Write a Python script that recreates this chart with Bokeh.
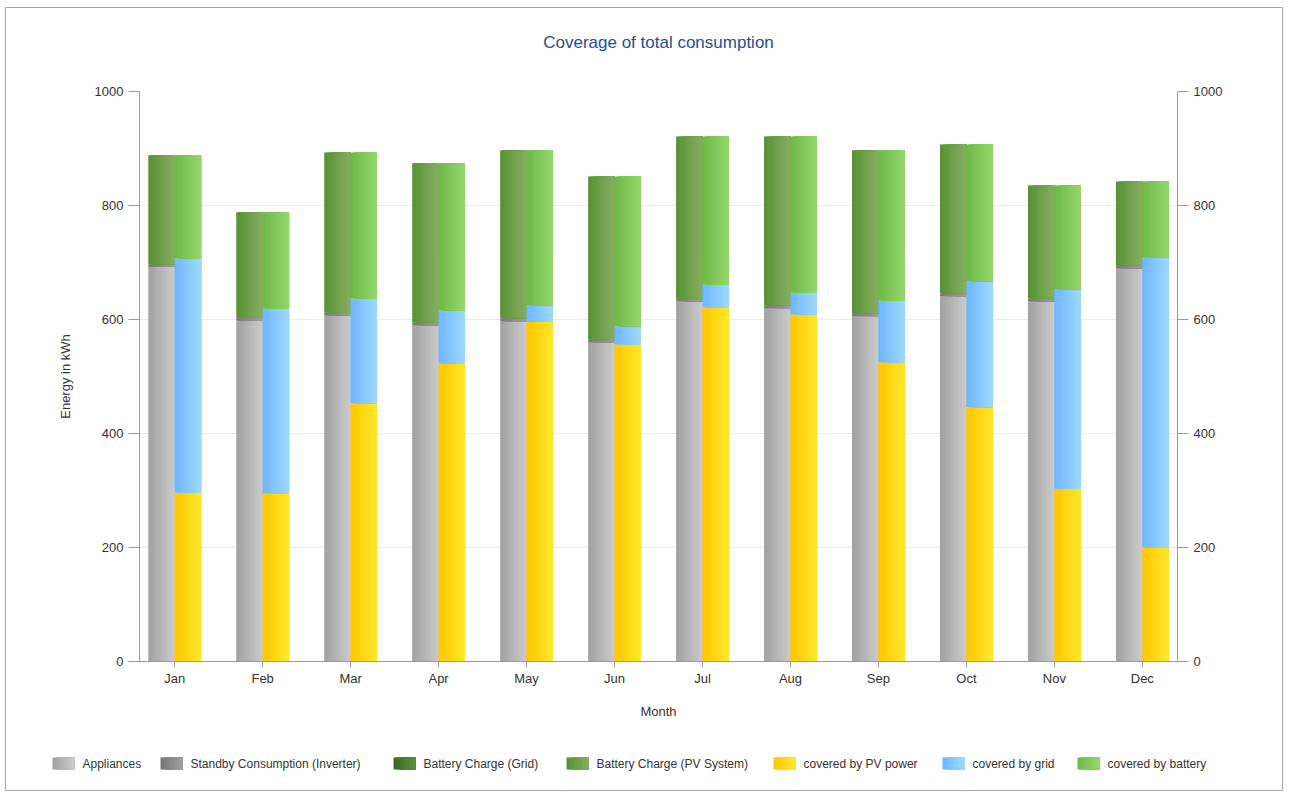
import numpy as np
from bokeh.plotting import figure
from bokeh.layouts import column
from bokeh.models import (Range1d, LinearAxis, FixedTicker, ColumnDataSource, Title)
from bokeh.core.properties import value
from bokeh.embed import file_html
from bokeh.resources import INLINE

# ---------------- data (kWh) ----------------
months = ["Jan", "Feb", "Mar", "Apr", "May", "Jun",
          "Jul", "Aug", "Sep", "Oct", "Nov", "Dec"]
# consumption side
appliances = [692, 598, 607, 590, 597, 560, 632, 620, 606, 641, 632, 690]
standby = [5, 5, 5, 5, 5, 5, 5, 5, 5, 5, 5, 5]
battery_charge_grid = [0, 0, 0, 0, 0, 0, 0, 0, 0, 0, 0, 0]
battery_charge_pv = [191, 185, 281, 279, 295, 286, 284, 296, 286, 261, 198, 147]
# coverage side
covered_pv = [296, 295, 453, 523, 596, 556, 621, 609, 525, 446, 303, 200]
covered_grid = [411, 324, 184, 93, 29, 32, 40, 38, 108, 221, 350, 509]
covered_battery = [181, 169, 256, 258, 272, 263, 260, 274, 264, 240, 182, 133]
y_ticks = [0, 200, 400, 600, 800, 1000]

FONT = "Liberation Sans"
TXT = "#333333"

left_series = [
    ("Appliances", appliances, ("#a2a2a2", "#cacaca")),
    ("Standby Consumption (Inverter)", standby, ("#787878", "#9c9c9c")),
    ("Battery Charge (Grid)", battery_charge_grid, ("#3c6826", "#5c8d3e")),
    ("Battery Charge (PV System)", battery_charge_pv, ("#5a9236", "#84ad5f")),
]
right_series = [
    ("covered by PV power", covered_pv, ("#ffc800", "#ffe628")),
    ("covered by grid", covered_grid, ("#72b6ff", "#9bd9ff")),
    ("covered by battery", covered_battery, ("#70ba47", "#93d76b")),
]

# legend layout (page pixels)
legend_x = [52, 160, 393, 566, 773, 942, 1077]

OX, OY = 6, 8  # canvas offset inside outer border
W = 1276
H_MAIN = 740 - OY
H_LEG = 790 - 740

p = figure(width=W, height=H_MAIN, output_backend="svg", toolbar_location=None,
           x_range=Range1d(-0.4, 11.4), y_range=Range1d(0, 1000),
           min_border_left=139 - OX, min_border_right=W - (1177 - OX),
           min_border_top=91 - OY, min_border_bottom=740 - 661,
           title=None)
p.frame_align = False
p.outline_line_color = None
p.background_fill_color = "white"
p.border_fill_color = "white"

spacer = Title(text=" ", text_font_size="21px", text_font=FONT)
p.add_layout(spacer, "above")
title = Title(text="Coverage of total consumption", align="center", text_font=FONT,
              text_font_size="17px", text_font_style="normal", text_color="#23508e")
p.add_layout(title, "above")

NSTRIP = 12
BAR_W = 0.3


def lerp_color(c0, c1, t):
    a = [int(c0[i:i + 2], 16) for i in (1, 3, 5)]
    b = [int(c1[i:i + 2], 16) for i in (1, 3, 5)]
    return "#%02x%02x%02x" % tuple(int(round(a[j] + (b[j] - a[j]) * t)) for j in range(3))


def gradient_quads(fig, lefts, width, bottoms, tops, c0, c1, n=NSTRIP):
    """Draw bars with a horizontal colour gradient (strips painted left to right)."""
    lefts = np.asarray(lefts, dtype=float)
    L, R, B, T, C = [], [], [], [], []
    for k in range(n):
        col = lerp_color(c0, c1, k / (n - 1))
        L.extend(lefts + k * width / n)
        R.extend(lefts + width)
        B.extend(bottoms)
        T.extend(tops)
        C.extend([col] * len(lefts))
    src = ColumnDataSource(dict(left=L, right=R, bottom=B, top=T, color=C))
    return fig.quad(left="left", right="right", bottom="bottom", top="top",
                    fill_color="color", line_color=None, source=src)


def draw_stack(series, offset):
    base = np.zeros(len(months))
    idx = np.arange(len(months))
    for name, vals, (c0, c1) in series:
        vals = np.asarray(vals, dtype=float)
        gradient_quads(p, idx + offset - BAR_W / 2, BAR_W, base, base + vals, c0, c1)
        base = base + vals


draw_stack(left_series, -0.15)
draw_stack(right_series, 0.15)

# axes
p.xaxis.ticker = FixedTicker(ticks=list(range(len(months))))
p.xaxis.major_label_overrides = {i: m for i, m in enumerate(months)}
p.xaxis.axis_label = "Month"
p.yaxis.axis_label = "Energy in kWh"
p.yaxis.ticker = FixedTicker(ticks=y_ticks)

p.add_layout(LinearAxis(ticker=FixedTicker(ticks=y_ticks)), "right")

for ax in p.axis:
    ax.axis_line_color = "#9a9a9a"
    ax.major_tick_line_color = "#9a9a9a"
    ax.minor_tick_line_color = None
    ax.major_tick_in = 0
    ax.major_label_text_font = FONT
    ax.major_label_text_font_size = "13px"
    ax.major_label_text_color = TXT
    ax.axis_label_text_font = FONT
    ax.axis_label_text_font_size = "13px"
    ax.axis_label_text_font_style = "normal"
    ax.axis_label_text_color = TXT

for ax in p.yaxis:
    ax.major_tick_out = 11
    ax.major_label_standoff = 5
    ax.axis_label_standoff = 19
p.xaxis.major_tick_out = 6
p.xaxis.major_label_standoff = 3
p.xaxis.axis_label_standoff = 15

p.xgrid.grid_line_color = None
p.ygrid.grid_line_color = "#ebebeb"
p.ygrid.ticker = FixedTicker(ticks=y_ticks)

# ---------------- legend strip (second figure, page-pixel coordinates) ----------------
leg = figure(width=W, height=H_LEG, output_backend="svg", toolbar_location=None,
             x_range=Range1d(OX, OX + W), y_range=Range1d(790, 740),
             min_border=0, x_axis_type=None, y_axis_type=None)
leg.frame_align = False
leg.outline_line_color = None
leg.xgrid.grid_line_color = None
leg.ygrid.grid_line_color = None
leg.border_fill_color = "white"

all_series = left_series + right_series
SW_W, SW_H, LEG_Y = 22, 12, 763
for (name, _, (c0, c1)), lx in zip(all_series, legend_x):
    gradient_quads(leg, [lx], SW_W, [LEG_Y + SW_H / 2], [LEG_Y - SW_H / 2], c0, c1, n=8)
leg.text(x=[lx + SW_W + 8 for lx in legend_x], y=[LEG_Y] * len(legend_x),
         text=[s[0] for s in all_series], text_font=value(FONT), text_font_size="12px",
         text_color=TXT, text_baseline="middle", text_align="left")

lay = column(p, leg, spacing=0)
lay.styles = {"border": "1px solid #a9a9a9", "margin-left": "5px", "margin-top": "7px"}

open("out.html", "w").write(file_html(lay, INLINE))
